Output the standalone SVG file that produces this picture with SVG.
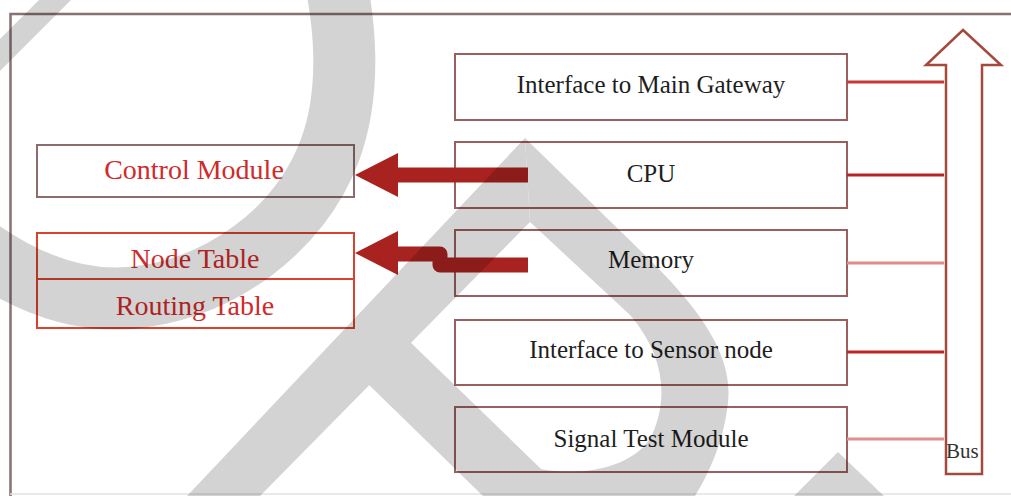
<svg xmlns="http://www.w3.org/2000/svg" width="1011" height="496" viewBox="0 0 1011 496">
  <style>
    .rbox { fill: #ffffff; stroke: #9c5f5f; stroke-width: 2; }
    .rtxt { font-family: "Liberation Serif", serif; font-size: 25px; fill: #1e1e1e; text-anchor: middle; }
    .ltxt { font-family: "Liberation Serif", serif; font-size: 28px; fill: #d02a2a; text-anchor: middle; }
    .tbl { fill: #ffffff; stroke: #d8432f; stroke-width: 2; }
    .bus-link { stroke-width: 3; fill: none; }
    .fat { fill: none; stroke: #a8231f; stroke-width: 15; stroke-linejoin: round; }
    .head { fill: #a8231f; }
  </style>
  <rect x="0" y="0" width="1011" height="496" fill="#ffffff"/>
  <g id="frame" fill="none">
    <path d="M10.5,496 V14 H1011" stroke="#857272" stroke-width="2.5"/>
    <line x1="10" y1="494" x2="1011" y2="494" stroke="#e2e2e2" stroke-width="1.5"/>
  </g>

  <g id="node-main-gateway">
    <rect class="rbox" x="455" y="54" width="392" height="66"/>
    <text class="rtxt" x="651" y="93">Interface to Main Gateway</text>
  </g>
  <g id="node-cpu">
    <rect class="rbox" x="455" y="142" width="392" height="66"/>
    <text class="rtxt" x="651" y="182">CPU</text>
  </g>
  <g id="node-memory">
    <rect class="rbox" x="455" y="230" width="392" height="66" stroke="#b98585"/>
    <text class="rtxt" x="651" y="268">Memory</text>
  </g>
  <g id="node-sensor">
    <rect class="rbox" x="455" y="320" width="392" height="65"/>
    <text class="rtxt" x="651" y="358">Interface to Sensor node</text>
  </g>
  <g id="node-signal-test">
    <rect class="rbox" x="455" y="407" width="392" height="65" stroke="#8a4e4e"/>
    <text class="rtxt" x="651" y="447">Signal Test Module</text>
  </g>

  <g id="node-control-module">
    <rect x="37" y="145" width="317" height="52" fill="#ffffff" stroke="#8c6c6c" stroke-width="2"/>
    <text class="ltxt" x="194" y="179">Control Module</text>
  </g>
  <g id="node-node-table">
    <rect class="tbl" x="37" y="233" width="317" height="46"/>
    <text class="ltxt" x="195" y="268" fill="#c43030">Node Table</text>
  </g>
  <g id="node-routing-table">
    <rect class="tbl" x="37" y="279" width="317" height="49"/>
    <text class="ltxt" x="195" y="315" fill="#c43030">Routing Table</text>
  </g>

  <g id="node-bus">
    <polygon points="963,30 1001,65 982,65 982,474 946,474 946,65 926,65" fill="#ffffff" stroke="#a34a3c" stroke-width="2.5" stroke-linejoin="miter"/>
    <text x="946" y="458" font-family="Liberation Serif, serif" font-size="21" fill="#333333">Bus</text>
  </g>

  <g id="connectors">
    <line class="bus-link" x1="847" y1="82" x2="944" y2="82" stroke="#c43a3a"/>
    <line class="bus-link" x1="847" y1="175" x2="944" y2="175" stroke="#b82424"/>
    <line class="bus-link" x1="847" y1="263" x2="944" y2="263" stroke="#e08a8a"/>
    <line class="bus-link" x1="847" y1="352" x2="944" y2="352" stroke="#c02626"/>
    <line class="bus-link" x1="847" y1="439" x2="944" y2="439" stroke="#e28e8e"/>
    <path class="fat" d="M528,175 H396"/>
    <polygon class="head" points="355,175 398,153 398,197"/>
    <path class="fat" d="M528,265 H440 V254 H396"/>
    <polygon class="head" points="355,253 398,231 398,275"/>
  </g>

  <g id="watermark" opacity="0.17" fill="#000000">
    <polygon points="39,0 71,0 0,71 0,39"/>
    <path d="M333,-30 C345,20 352,90 330,150 C300,230 220,290 130,298 C80,302 30,285 -20,250" fill="none" stroke="#000000" stroke-width="62"/>
    <polygon points="187,496 525,138 530,222 260,496"/>
    <polygon points="366,382 408,340 569,496 483,496"/>
    <path d="M525,138 L652,262 C712,322 735,365 727,410 C722,445 708,475 695,496 L540,496 L535,468 C580,478 635,468 652,435 C670,395 662,352 630,315 L530,222 Z"/>
    <polygon points="838,452 794,496 884,496"/>
  </g>
</svg>
